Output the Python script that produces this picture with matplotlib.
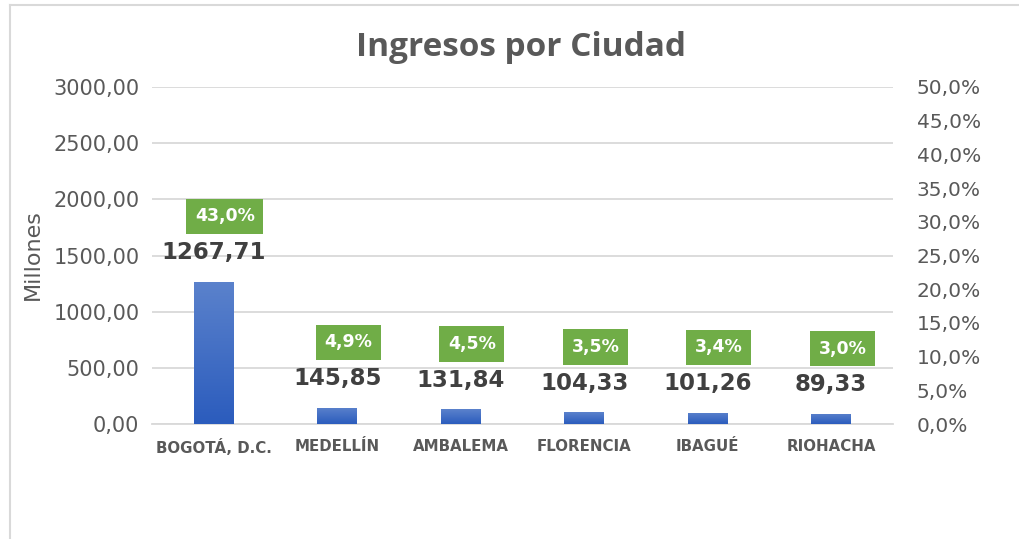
import matplotlib
matplotlib.use("Agg")
import matplotlib.pyplot as plt
import numpy as np
from matplotlib.lines import Line2D
from matplotlib.colors import LinearSegmentedColormap

ciudades = ["BOGOTÁ, D.C.", "MEDELLÍN", "AMBALEMA", "FLORENCIA", "IBAGUÉ", "RIOHACHA"]
ingresos = [1267.71, 145.85, 131.84, 104.33, 101.26, 89.33]
porcentajes = [43.0, 4.9, 4.5, 3.5, 3.4, 3.0]
left_ticks = [0, 500, 1000, 1500, 2000, 2500, 3000]
right_ticks = [0, 5, 10, 15, 20, 25, 30, 35, 40, 45, 50]

FONT = "DejaVu Sans"
TFONT = "Open Sans"
GRAY = "#595959"

fig = plt.figure(figsize=(10.2, 5.39), dpi=100)
fig.patch.set_facecolor("white")
# chart frame (left and top edges visible)
fx, fy = 10/1020, 1 - 5/539
fig.add_artist(Line2D([fx, fx], [0, fy], transform=fig.transFigure, color="#d9d9d9", lw=1.5))
fig.add_artist(Line2D([fx, 1], [fy, fy], transform=fig.transFigure, color="#d9d9d9", lw=1.5))

ax = fig.add_axes([152/1020, 1 - 424/539, (893 - 152)/1020, (424 - 87)/539])
x = np.arange(len(ciudades))

bw = 0.32
bars = ax.bar(x, ingresos, width=bw, color="#4472C4", zorder=3)
grad = np.linspace(0, 1, 256).reshape(-1, 1)
cmap = LinearSegmentedColormap.from_list("g", ["#2b5cbd", "#5b82cc"])
for b in bars:
    bx, by = b.get_x(), b.get_y()
    w, h = b.get_width(), b.get_height()
    im = ax.imshow(grad, extent=[bx, bx + w, by, by + h], origin="lower", cmap=cmap,
                   aspect="auto", zorder=3)
    im.set_clip_path(b)
ax.set_xlim(-0.5, len(ciudades) - 0.5)
ax.set_ylim(0, 3000)

ax.set_yticks(left_ticks)
ax.set_yticklabels([f"{v:.2f}".replace(".", ",") for v in left_ticks], fontsize=15,
                   color=GRAY, family=FONT)
ax.yaxis.grid(True, color="#d9d9d9", linewidth=1.3, zorder=0)
ax.set_axisbelow(True)
ax.tick_params(axis="y", length=0, pad=9)
ax.set_xticks(x)
ax.set_xticklabels(ciudades, fontsize=10.8, fontweight="bold", color=GRAY, family=FONT)
ax.tick_params(axis="x", length=0, pad=11)
for s in ["top", "right", "left"]:
    ax.spines[s].set_visible(False)
ax.spines["bottom"].set_color("#d9d9d9")
ax.spines["bottom"].set_linewidth(1.3)

ax2 = ax.twinx()
ax2.set_ylim(0, 50)
ax2.set_yticks(right_ticks)
ax2.set_yticklabels([f"{v:.1f}%".replace(".", ",") for v in right_ticks], fontsize=14.5,
                    color=GRAY, family=FONT)
ax2.tick_params(axis="y", length=0, pad=17)
for s in ax2.spines.values():
    s.set_visible(False)

for xi, v, p in zip(x, ingresos, porcentajes):
    ax.annotate(f"{v:.2f}".replace(".", ","), (xi, v), xytext=(0, 21), textcoords="offset points",
                ha="center", va="center", fontsize=16.5, fontweight="bold", color="#404040",
                family=FONT, zorder=5)
    ax.annotate(f"{p:.1f}%".replace(".", ","), (xi, v), xytext=(8, 47), textcoords="offset points",
                ha="center", va="center", fontsize=12.5, fontweight="bold", color="white",
                family=FONT, zorder=6,
                bbox=dict(boxstyle="square,pad=0.5", facecolor="#70AD47", edgecolor="none"))

fig.text(33/1020, 1 - 255/539, "Millones", rotation=90, ha="center", va="center",
         fontsize=16, color=GRAY, family=FONT)
fig.text(521/1020, 1 - 48/539, "Ingresos por Ciudad", ha="center", va="center",
         fontsize=24, fontweight="bold", color=GRAY, family=TFONT)

fig.savefig("out.png", dpi=100)
